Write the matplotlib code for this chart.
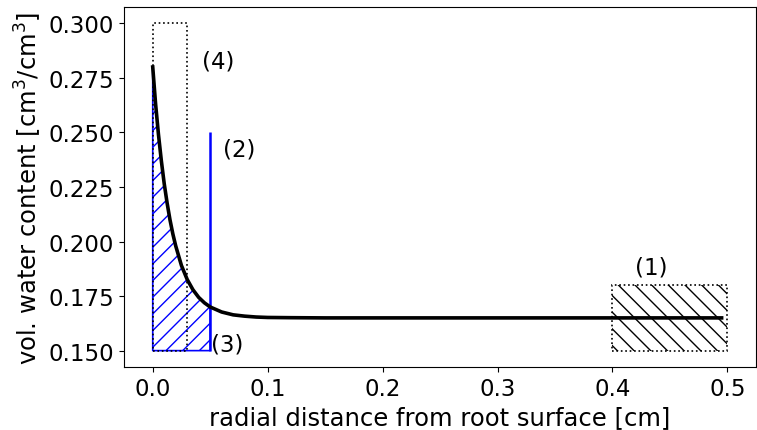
import matplotlib
matplotlib.use("Agg")
import matplotlib.pyplot as plt
from matplotlib.patches import Rectangle

# ── Data ──────────────────────────────────────────────────────────────────────
r = [0.0, 0.0025, 0.005, 0.0075, 0.01, 0.0125, 0.015, 0.0175, 0.02, 0.025,
     0.03, 0.035, 0.04, 0.045, 0.05, 0.06, 0.07, 0.08, 0.09, 0.1, 0.12,
     0.15, 0.2, 0.3, 0.4, 0.495]
theta = [0.280, 0.263, 0.249, 0.237, 0.2265, 0.2177, 0.210, 0.2035, 0.198,
         0.189, 0.1826, 0.1779, 0.1744, 0.1719, 0.1700, 0.1677, 0.1664,
         0.1658, 0.1654, 0.1652, 0.1651, 0.165, 0.165, 0.165, 0.165, 0.165]

theta_min = 0.15
r_shaded = 0.05          # (2)/(3): extent of blue hatched zone
theta_line_top = 0.25    # (2): top of blue line
box4 = (0.0, 0.03, 0.15, 0.30)    # (4): x0, x1, y0, y1
box1 = (0.4, 0.5, 0.15, 0.18)     # (1)

labels = ["(1)", "(2)", "(3)", "(4)"]
label_x = [0.42, 0.061, 0.051, 0.0425]
label_y = [0.1884, 0.2423, 0.1530, 0.2827]

# ── Plot ──────────────────────────────────────────────────────────────────────
plt.rcParams["font.size"] = 16.5
plt.rcParams["hatch.linewidth"] = 1.0
fig = plt.figure(figsize=(7.57, 4.31), dpi=100)
ax = fig.add_axes([0.1638, 0.1462, 0.835, 0.8352])

# blue hatched zone under the curve
xs = [v for v in r if v <= r_shaded]
ys = theta[:len(xs)]
ax.fill_between(xs, ys, theta_min, facecolor="none", edgecolor="blue",
                hatch="//", lw=1.2, zorder=2)
ax.vlines(r_shaded, theta_min, theta_line_top, color="blue", lw=1.8, zorder=3)

# dotted box (4)
ax.add_patch(Rectangle((box4[0], box4[2]), box4[1] - box4[0], box4[3] - box4[2],
                       fill=False, ls=":", lw=1.2, ec="black", zorder=3))
# hatched box (1): hatch and dotted outline drawn separately
w1, h1 = box1[1] - box1[0], box1[3] - box1[2]
ax.add_patch(Rectangle((box1[0], box1[2]), w1, h1, fill=False, lw=0,
                       ec="black", hatch="\\\\", zorder=2))
ax.add_patch(Rectangle((box1[0], box1[2]), w1, h1, fill=False, ls=":",
                       lw=1.2, ec="black", zorder=3))

ax.plot(r, theta, color="black", lw=2.6, zorder=4)

for lab, lx, ly in zip(labels, label_x, label_y):
    ax.text(lx, ly, lab, ha="left", va="center", fontsize=16.5)

ax.set_xlim(-0.025, 0.525)
ax.set_ylim(0.1425, 0.3075)
ax.set_xticks([0.0, 0.1, 0.2, 0.3, 0.4, 0.5])
ax.set_yticks([0.150, 0.175, 0.200, 0.225, 0.250, 0.275, 0.300])
ax.set_yticklabels(["0.150", "0.175", "0.200", "0.225", "0.250", "0.275", "0.300"])
ax.set_xlabel("radial distance from root surface [cm]", fontsize=17.5)
ax.set_ylabel(r"vol. water content [cm$^3$/cm$^3$]", fontsize=17.5, labelpad=3)

fig.savefig("out.png", dpi=100)
